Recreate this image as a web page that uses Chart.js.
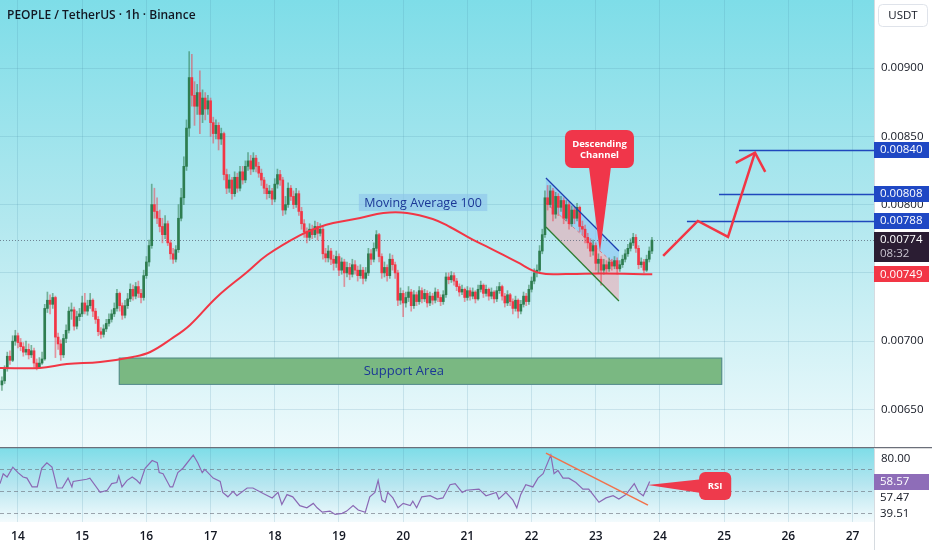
<!DOCTYPE html>
<html>
<head>
<meta charset="utf-8">
<script src="https://cdn.jsdelivr.net/npm/chart.js@4.4.1/dist/chart.umd.min.js"></script>
<style>
  body { margin: 0; background: #fff; }
  #pricePane { position: absolute; left: 0; top: 0; width: 932px; height: 447px; }
  #rsiPane { position: absolute; left: 0; top: 447px; width: 932px; height: 103px; }
</style>
</head>
<body>
<div id="pricePane"><canvas id="priceChart"></canvas></div>
<div id="rsiPane"><canvas id="rsiChart"></canvas></div>
<script>
// prices in 1e-5 USDT (774 -> 0.00774), one candle per hour starting 13th 18:00
// open of each candle = close of the one before
var firstCandleDay = 13.75;
var firstOpen = 668;
var closes = [
  671,680,689,686,700,704,699,696,692,694, 690,693,684,681,684,687,724,730,727,732,
  703,698,690,702,708,722,723,711,718,720, 728,722,726,730,722,716,707,705,709,713,
  716,720,724,735,726,719,726,731,738,733, 740,735,732,748,758,770,800,795,790,784,
  778,786,772,764,760,767,790,805,828,856, 893,880,872,882,866,878,870,876,860,852,
  858,848,852,822,812,818,808,820,812,824, 818,828,832,826,834,828,823,818,812,808,
  810,804,815,822,818,796,800,812,806,800, 808,795,786,780,776,782,778,784,779,782,
  764,761,766,760,757,762,752,758,750,754, 749,756,752,748,752,746,750,764,760,768,
  778,762,750,754,748,760,756,750,730,735, 728,732,736,726,734,729,737,731,735,728,
  733,730,736,732,729,734,747,745,748,744, 740,736,738,732,737,733,736,731,738,741,
  735,738,733,736,731,737,740,733,728,734, 729,724,730,722,727,733,729,738,744,750,
  752,766,778,805,800,810,793,806,798,803, 790,800,786,796,790,798,784,782,776,772,
  766,770,757,760,752,756,753,758,755,759, 753,756,760,764,768,772,776,768,756,758,
  752,760,766,774
];
var highs = [
  674,682,692,693,704,708,706,702,699,700, 698,697,695,687,688,692,727,736,734,735,
  733,706,701,705,712,725,728,725,722,724, 733,735,730,735,731,724,718,710,712,716,
  720,723,728,738,736,728,730,735,742,741, 743,744,738,752,762,774,815,812,805,796,
  790,792,788,774,768,770,800,812,835,862, 912,910,890,888,898,884,882,880,878,864,
  862,860,856,853,826,822,820,824,823,828, 828,832,838,836,838,836,831,826,820,815,
  814,812,819,826,825,820,806,816,814,810, 812,810,798,789,783,786,785,788,787,786,
  784,768,770,768,763,766,764,761,760,758, 757,760,759,755,756,754,754,768,767,772,
  781,779,764,758,756,764,763,758,752,739, 737,736,740,738,737,736,740,739,738,737,
  736,735,739,738,734,737,750,750,751,750, 746,742,741,739,740,739,739,737,741,744,
  742,741,739,739,737,740,743,741,735,737, 735,731,733,731,730,736,735,741,747,753,
  756,770,782,810,814,814,812,809,808,806, 805,803,802,799,798,801,799,788,785,779,
  775,774,772,764,762,760,759,761,760,762, 761,759,763,767,771,775,779,778,770,761,
  760,763,769,776
];
var lows = [
  664,669,678,683,685,697,695,693,689,690, 687,688,681,679,680,683,686,721,720,724,
  688,694,686,688,699,706,716,708,709,715, 718,720,719,724,718,713,704,702,703,707,
  711,714,718,722,722,716,717,724,729,730, 731,732,728,730,746,755,768,790,786,780,
  772,775,770,760,757,758,765,788,800,825, 850,872,858,866,852,860,862,866,850,845,
  848,840,844,818,808,809,804,806,809,810, 815,816,825,822,824,824,820,814,808,804,
  805,800,802,812,814,792,793,798,803,797, 798,792,782,776,772,774,775,776,774,777,
  760,758,758,756,752,754,748,749,740,747, 745,747,749,744,746,742,744,748,756,758,
  766,758,746,747,744,746,752,746,726,727, 718,725,729,722,724,726,727,728,729,725,
  726,727,728,729,726,727,732,742,743,741, 737,733,734,729,730,730,731,728,730,736,
  732,733,730,731,728,729,735,730,725,726, 726,720,722,717,720,725,726,727,736,742,
  747,750,764,776,796,798,788,790,792,795, 786,788,782,784,786,788,780,778,772,768,
  762,763,752,750,741,749,750,751,752,753, 749,751,754,758,762,766,770,765,753,754,
  750,751,758,764
];

// moving average 100
var maDays = [13.72,14.34,14.76,15.28,15.79,16.06,16.41,16.68,17.10,17.57,17.88,18.39,18.70,
  18.91,19.33,19.69,20.06,20.46,20.73,21.09,21.35,21.77,22.13,22.55,23.07,23.88];
var maValues = [680.4,680.4,683.3,684.8,688.5,692.1,702.4,711.9,732.4,750.7,763.1,777.5,783.6,
  786.5,790.2,793.9,793.9,789.5,783.6,774.1,768.2,758.0,749.9,749.2,749.5,749.0];

// RSI 14
var rsiDays = [13.72,13.77,13.83,13.92,14.00,14.08,14.14,14.22,14.30,14.37,14.45,14.53,14.61,14.69,
  14.78,14.84,14.86,15.07,15.12,15.28,15.39,15.46,15.54,15.57,15.62,15.70,15.78,15.85,15.90,15.98,
  16.09,16.17,16.20,16.26,16.37,16.41,16.49,16.57,16.73,16.80,16.87,16.91,17.04,17.15,17.19,17.27,
  17.35,17.41,17.57,17.66,17.82,17.96,18.05,18.11,18.19,18.28,18.39,18.50,18.60,18.66,18.74,18.86,
  18.94,19.05,19.12,19.22,19.30,19.41,19.48,19.56,19.61,19.67,19.72,19.76,19.84,19.92,20.00,20.11,
  20.15,20.21,20.29,20.42,20.53,20.62,20.73,20.81,20.92,20.98,21.18,21.29,21.45,21.49,21.60,21.71,
  21.77,21.83,21.91,22.02,22.10,22.18,22.30,22.35,22.41,22.49,22.58,22.69,22.80,22.89,22.97,23.05,
  23.16,23.27,23.36,23.47,23.60,23.67,23.74,23.78,23.84];
var rsiValues = [57,66,63,72,67,63,62,54,54,71,76,72,53,53,
  62,54,59,61,62,49,51,57,58,64,54,60,63,60,57,71,
  78,76,67,66,54,54,67,71,83,76,67,70,62,59,49,45,
  50,46,53,53,48,44,49,38,47,45,37,35,39,35,31,32,
  29,30,32,37,33,31,45,49,60,42,40,49,44,35,39,37,
  41,35,45,46,43,44,56,57,49,51,52,46,49,43,49,42,
  35,47,56,54,62,66,83,66,69,62,62,58,52,52,46,40,
  44,46,43,47,57,49,46,51,59];

var dayTicks = [14,15,16,17,18,19,20,21,22,23,24,25,26,27];
var priceTicks = [0.0065,0.0070,0.0075,0.0080,0.0085,0.0090];
var rsiTicks = [30,50,70,80];

var lastPrice = 774;
var maLast = 749;
var targetLevels = [840,808,788];
var targetStartDays = [25.23,24.92,24.42];

var xMin = 13.72, xMax = 27.334;
var gridColor = 'rgba(70,140,165,0.18)';
var upBody = '#2e7d50', upWick = 'rgba(46,125,80,0.55)';
var downBody = '#f23645', downWick = 'rgba(242,54,69,0.5)';

var wickData = [], bodyData = [], wickColors = [], bodyColors = [];
for (var i = 0; i < closes.length; i++) {
  var t = firstCandleDay + i / 24;
  var o = i === 0 ? firstOpen : closes[i - 1];
  var up = closes[i] >= o;
  wickData.push({x: t, y: [lows[i] * 1e-5, highs[i] * 1e-5]});
  bodyData.push({x: t, y: [o * 1e-5, closes[i] * 1e-5]});
  wickColors.push(up ? upWick : downWick);
  bodyColors.push(up ? upBody : downBody);
}
var maData = maDays.map(function (d, k) { return {x: d, y: maValues[k] * 1e-5}; });
var rsiData = rsiDays.map(function (d, k) { return {x: d, y: rsiValues[k]}; });

function roundBox(ctx, x, y, w, h, r) {
  ctx.beginPath();
  ctx.moveTo(x + r, y);
  ctx.arcTo(x + w, y, x + w, y + h, r);
  ctx.arcTo(x + w, y + h, x, y + h, r);
  ctx.arcTo(x, y + h, x, y, r);
  ctx.arcTo(x, y, x + w, y, r);
  ctx.closePath();
}
function px(chart, d) { return chart.scales.x.getPixelForValue(d); }
function py(chart, v) { return chart.scales.y.getPixelForValue(v * 1e-5); }
function ry(chart, v) { return chart.scales.y.getPixelForValue(v); }
function noPad(s) { s.paddingTop = 0; s.paddingBottom = 0; s.width = 58; }

var FONT = '"Open Sans", "DejaVu Sans", sans-serif';

var priceDrawings = {
  id: 'priceDrawings',
  beforeDraw: function (chart) {
    var a = chart.chartArea, ctx = chart.ctx;
    var g = ctx.createLinearGradient(0, a.top, 0, a.bottom);
    g.addColorStop(0, '#7edde8');
    g.addColorStop(0.5, '#b3e8ef');
    g.addColorStop(1, '#eefafc');
    ctx.save();
    ctx.fillStyle = g;
    ctx.fillRect(a.left, a.top, a.right - a.left, a.bottom - a.top);
    ctx.restore();
  },
  beforeDatasetsDraw: function (chart) {
    var ctx = chart.ctx, a = chart.chartArea;
    ctx.save();
    // support area
    var sx1 = px(chart, 15.57), sx2 = px(chart, 24.97);
    var sy1 = py(chart, 688), sy2 = py(chart, 668);
    ctx.fillStyle = '#7ab882';
    ctx.fillRect(sx1, sy1, sx2 - sx1, sy2 - sy1);
    ctx.strokeStyle = 'rgba(60,110,150,0.6)';
    ctx.lineWidth = 1;
    ctx.strokeRect(sx1 + 0.5, sy1 + 0.5, sx2 - sx1 - 1, sy2 - sy1 - 1);

    // descending channel fills
    var cx1 = px(chart, 22.224), cx2 = px(chart, 23.361);
    ctx.fillStyle = 'rgba(135,195,245,0.55)';
    ctx.beginPath();
    ctx.moveTo(cx1, py(chart, 819.5));
    ctx.lineTo(cx2, py(chart, 766));
    ctx.lineTo(cx2, py(chart, 753.6));
    ctx.lineTo(cx1, py(chart, 801.2));
    ctx.closePath();
    ctx.fill();
    ctx.fillStyle = 'rgba(240,165,175,0.55)';
    ctx.beginPath();
    ctx.moveTo(cx1, py(chart, 801.2));
    ctx.lineTo(cx2, py(chart, 753.6));
    ctx.lineTo(cx2, py(chart, 729.4));
    ctx.lineTo(cx1, py(chart, 783.6));
    ctx.closePath();
    ctx.fill();
    ctx.setLineDash([3, 3]);
    ctx.strokeStyle = 'rgba(242,54,69,0.55)';
    ctx.beginPath();
    ctx.moveTo(cx1, py(chart, 801.2));
    ctx.lineTo(cx2, py(chart, 753.6));
    ctx.stroke();
    ctx.setLineDash([]);

    // last price dotted line
    var ly = Math.round(py(chart, lastPrice)) + 0.5;
    ctx.setLineDash([1, 2]);
    ctx.strokeStyle = 'rgba(80,90,110,0.7)';
    ctx.beginPath();
    ctx.moveTo(a.left, ly);
    ctx.lineTo(a.right, ly);
    ctx.stroke();
    ctx.restore();
  },
  afterDatasetsDraw: function (chart) {
    var ctx = chart.ctx, a = chart.chartArea;
    ctx.save();
    // channel borders
    var cx1 = px(chart, 22.224), cx2 = px(chart, 23.361);
    ctx.lineWidth = 1.3;
    ctx.strokeStyle = '#1d3fb0';
    ctx.beginPath();
    ctx.moveTo(cx1, py(chart, 819.5));
    ctx.lineTo(cx2, py(chart, 766));
    ctx.stroke();
    ctx.strokeStyle = '#2e7d32';
    ctx.beginPath();
    ctx.moveTo(cx1, py(chart, 783.6));
    ctx.lineTo(cx2, py(chart, 729.4));
    ctx.stroke();

    // support text
    ctx.font = '13px ' + FONT;
    ctx.fillStyle = '#1b3796';
    ctx.textAlign = 'center';
    ctx.textBaseline = 'middle';
    ctx.fillText('Support Area', px(chart, 20.01), py(chart, 678));

    // moving average label
    var mx1 = px(chart, 19.31), mx2 = px(chart, 21.31);
    var my1 = py(chart, 807.8), my2 = py(chart, 795.3);
    ctx.fillStyle = 'rgba(140,195,235,0.6)';
    ctx.fillRect(mx1, my1, mx2 - mx1, my2 - my1);
    ctx.fillStyle = '#1b3796';
    ctx.font = '12.5px ' + FONT;
    ctx.fillText('Moving Average 100', (mx1 + mx2) / 2, (my1 + my2) / 2 + 0.5);

    // target levels
    ctx.strokeStyle = '#1f48bd';
    ctx.lineWidth = 1.5;
    targetLevels.forEach(function (lv, k) {
      var y = Math.round(py(chart, lv)) + 0.5;
      ctx.beginPath();
      ctx.moveTo(px(chart, targetStartDays[k]), y);
      ctx.lineTo(a.right, y);
      ctx.stroke();
    });

    // projected path arrow
    ctx.strokeStyle = '#f23645';
    ctx.lineWidth = 2.5;
    ctx.lineJoin = 'miter';
    ctx.beginPath();
    ctx.moveTo(px(chart, 24.05), py(chart, 762.4));
    ctx.lineTo(px(chart, 24.59), py(chart, 788));
    ctx.lineTo(px(chart, 25.06), py(chart, 776.3));
    ctx.lineTo(px(chart, 25.48), py(chart, 838));
    ctx.stroke();
    ctx.beginPath();
    ctx.moveTo(px(chart, 25.18), py(chart, 830.5));
    ctx.lineTo(px(chart, 25.48), py(chart, 838));
    ctx.lineTo(px(chart, 25.64), py(chart, 823.9));
    ctx.stroke();

    // channel callout
    var bx1 = px(chart, 22.52), bx2 = px(chart, 23.595);
    var by1 = py(chart, 854.6), by2 = py(chart, 826.8);
    ctx.fillStyle = '#f0364a';
    roundBox(ctx, bx1, by1, bx2 - bx1, by2 - by1, 7);
    ctx.fill();
    ctx.beginPath();
    ctx.moveTo(px(chart, 22.894), by2 - 1);
    ctx.lineTo(px(chart, 23.065), py(chart, 765.3));
    ctx.lineTo(px(chart, 23.237), by2 - 1);
    ctx.closePath();
    ctx.fill();
    ctx.fillStyle = '#fff';
    ctx.font = 'bold 9.5px ' + FONT;
    ctx.textAlign = 'center';
    ctx.fillText('Descending', (bx1 + bx2) / 2, by1 + 14);
    ctx.fillText('Channel', (bx1 + bx2) / 2, by1 + 25);
    ctx.restore();
  },
  afterDraw: function (chart) {
    var ctx = chart.ctx, a = chart.chartArea;
    ctx.save();
    ctx.font = '11.5px ' + FONT;
    ctx.textBaseline = 'middle';
    ctx.textAlign = 'left';
    // price labels on the axis
    targetLevels.forEach(function (lv) {
      var y = py(chart, lv);
      ctx.fillStyle = '#1f48c4';
      ctx.fillRect(a.right, Math.round(y - 8), 55, 16);
      ctx.fillStyle = '#fff';
      ctx.fillText((lv / 1e5).toFixed(5), a.right + 6, y);
    });
    var yl = py(chart, lastPrice);
    ctx.fillStyle = '#2b1d33';
    ctx.fillRect(a.right, Math.round(yl - 8), 55, 30);
    ctx.fillStyle = '#fff';
    ctx.fillText((lastPrice / 1e5).toFixed(5), a.right + 6, yl);
    ctx.fillStyle = '#c9c3cf';
    ctx.fillText('08:32', a.right + 6, yl + 14);
    var ym = py(chart, maLast);
    ctx.fillStyle = '#f23645';
    ctx.fillRect(a.right, Math.round(ym - 8), 55, 16);
    ctx.fillStyle = '#fff';
    ctx.fillText((maLast / 1e5).toFixed(5), a.right + 6, ym);

    // currency box
    ctx.fillStyle = '#fff';
    ctx.strokeStyle = '#dfe3ea';
    ctx.lineWidth = 1;
    roundBox(ctx, 878.5, 4.5, 49, 22, 4);
    ctx.fill();
    ctx.stroke();
    ctx.fillStyle = '#131722';
    ctx.textAlign = 'center';
    ctx.fillText('USDT', 903, 16);

    // title
    ctx.textAlign = 'left';
    ctx.font = '600 12px ' + FONT;
    ctx.fillText('PEOPLE / TetherUS \u00b7 1h \u00b7 Binance', 7, 16);
    ctx.restore();
  }
};

var rsiDrawings = {
  id: 'rsiDrawings',
  beforeDraw: function (chart) {
    var a = chart.chartArea, ctx = chart.ctx;
    var g = ctx.createLinearGradient(0, a.top, 0, a.bottom);
    g.addColorStop(0, '#7edde8');
    g.addColorStop(0.5, '#b8e6f0');
    g.addColorStop(1, '#f3fbfd');
    ctx.save();
    ctx.fillStyle = g;
    ctx.fillRect(a.left, a.top, a.right - a.left, a.bottom - a.top);
    ctx.restore();
  },
  afterDatasetsDraw: function (chart) {
    var ctx = chart.ctx;
    ctx.save();
    // RSI trend line
    ctx.strokeStyle = '#f2714a';
    ctx.lineWidth = 1.5;
    ctx.beginPath();
    ctx.moveTo(px(chart, 22.224), ry(chart, 84.8));
    ctx.lineTo(px(chart, 23.813), ry(chart, 37.5));
    ctx.stroke();
    // RSI callout
    var bx1 = px(chart, 24.61), bx2 = px(chart, 25.11);
    var by1 = ry(chart, 67.5), by2 = ry(chart, 42.1);
    ctx.fillStyle = '#ee3a4c';
    roundBox(ctx, bx1, by1, bx2 - bx1, by2 - by1, 6);
    ctx.fill();
    ctx.beginPath();
    ctx.moveTo(bx1 + 2, ry(chart, 61));
    ctx.lineTo(px(chart, 23.81), ry(chart, 55.7));
    ctx.lineTo(bx1 + 2, ry(chart, 48.5));
    ctx.closePath();
    ctx.fill();
    ctx.fillStyle = '#fff';
    ctx.font = 'bold 9.5px ' + FONT;
    ctx.textAlign = 'center';
    ctx.textBaseline = 'middle';
    ctx.fillText('RSI', (bx1 + bx2) / 2, (by1 + by2) / 2);
    ctx.restore();
  },
  afterDraw: function (chart) {
    var ctx = chart.ctx, a = chart.chartArea;
    ctx.save();
    // pane separator and axis border
    ctx.strokeStyle = '#6b6f7a';
    ctx.lineWidth = 1.5;
    ctx.beginPath();
    ctx.moveTo(0, 0.5);
    ctx.lineTo(932, 0.5);
    ctx.stroke();
    ctx.strokeStyle = '#d6dbe0';
    ctx.lineWidth = 1;
    ctx.beginPath();
    ctx.moveTo(a.right + 0.5, 1);
    ctx.lineTo(a.right + 0.5, chart.height);
    ctx.stroke();
    ctx.font = '11.5px ' + FONT;
    ctx.textBaseline = 'middle';
    ctx.textAlign = 'left';
    var yv = ry(chart, 58.57);
    ctx.fillStyle = '#8e6db8';
    ctx.fillRect(a.right, Math.round(yv - 8), 55, 16);
    ctx.fillStyle = '#fff';
    ctx.fillText('58.57', a.right + 6, yv);
    ctx.fillStyle = '#131722';
    ctx.fillText('57.47', a.right + 6, ry(chart, 43.9));
    ctx.fillText('39.51', a.right + 6, ry(chart, 29.5));
    ctx.restore();
  }
};

function dayTickBuilder(scale) {
  scale.ticks = dayTicks.map(function (v) { return {value: v}; });
}

var ctx = document.getElementById('priceChart').getContext('2d');
var priceChart = new Chart(ctx, {
  data: {
    datasets: [
      {type: 'line', data: maData, borderColor: '#f23645', borderWidth: 2, pointRadius: 0,
        tension: 0.4, order: 0},
      {type: 'bar', data: bodyData, backgroundColor: bodyColors, barThickness: 2,
        grouped: false, order: 1},
      {type: 'bar', data: wickData, backgroundColor: wickColors, barThickness: 1,
        grouped: false, order: 2}
    ]
  },
  options: {
    responsive: true,
    maintainAspectRatio: false,
    animation: false,
    events: [],
    layout: {padding: 0},
    plugins: {legend: {display: false}, tooltip: {enabled: false}},
    scales: {
      x: {
        type: 'linear', min: xMin, max: xMax, offset: false,
        afterBuildTicks: dayTickBuilder,
        ticks: {display: false},
        grid: {color: gridColor, drawTicks: false, offset: false},
        border: {display: false},
        afterFit: function (s) { s.height = 0; s.paddingLeft = 0; s.paddingRight = 0; }
      },
      y: {
        position: 'right', min: 0.0062255, max: 0.0094978,
        afterBuildTicks: function (s) { s.ticks = priceTicks.map(function (v) { return {value: v}; }); },
        ticks: {padding: 7, color: '#131722', font: {family: FONT, size: 11.5},
          callback: function (v) { return v.toFixed(5); }},
        grid: {color: gridColor, drawTicks: false},
        border: {color: '#d6dbe0'},
        afterFit: noPad
      }
    }
  },
  plugins: [priceDrawings]
});

var ctx2 = document.getElementById('rsiChart').getContext('2d');
var rsiChart = new Chart(ctx2, {
  type: 'line',
  data: {
    datasets: [{data: rsiData, borderColor: '#8a68b4', borderWidth: 1.2, pointRadius: 0, tension: 0}]
  },
  options: {
    responsive: true,
    maintainAspectRatio: false,
    animation: false,
    events: [],
    layout: {padding: {top: 1}},
    plugins: {legend: {display: false}, tooltip: {enabled: false}},
    scales: {
      x: {
        type: 'linear', min: xMin, max: xMax, offset: false,
        afterBuildTicks: dayTickBuilder,
        ticks: {padding: 7, color: '#131722', maxRotation: 0, autoSkip: false,
          font: {family: FONT, size: 12, weight: '600'},
          callback: function (v) { return String(v); }},
        grid: {color: gridColor, drawTicks: false},
        border: {display: false},
        afterFit: function (s) { s.height = 28; s.paddingLeft = 0; s.paddingRight = 0; }
      },
      y: {
        position: 'right', min: 22.1, max: 89.4,
        afterBuildTicks: function (s) { s.ticks = rsiTicks.map(function (v) { return {value: v}; }); },
        ticks: {padding: 7, color: '#131722', font: {family: FONT, size: 11.5},
          callback: function (v) { return v === 80 ? '80.00' : ''; }},
        grid: {drawTicks: false, color: function (c) {
          return c.tick && c.tick.value === 80 ? 'rgba(0,0,0,0)' : 'rgba(105,110,122,0.6)';
        }},
        border: {display: false, dash: [4, 3]},
        afterFit: noPad
      }
    }
  },
  plugins: [rsiDrawings]
});
</script>
</body>
</html>
